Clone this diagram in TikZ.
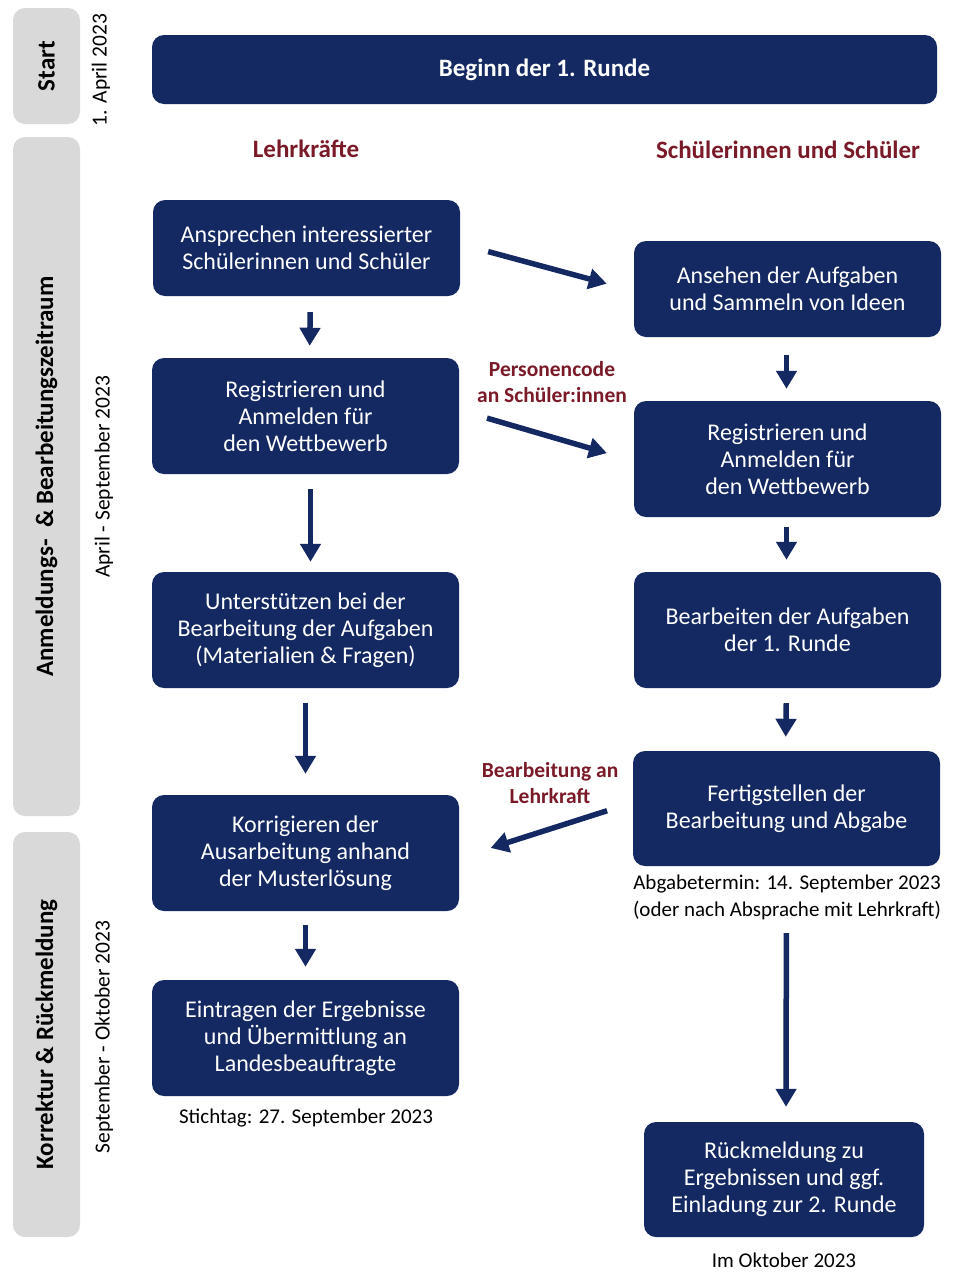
\documentclass[tikz,border=0pt]{standalone}
\usepackage{fontspec}
\setmainfont{Carlito}
\usetikzlibrary{arrows.meta}
\definecolor{navy}{HTML}{142862}
\definecolor{darkred}{HTML}{7A1A28}
\definecolor{sidegray}{HTML}{D9D9D9}
\begin{document}
\begin{tikzpicture}[x=1pt,y=-1pt,
  box/.style={fill=navy, rounded corners=12pt, text=white, align=center,
    font=\fontsize{24}{27}\selectfont, inner sep=0pt},
  side/.style={fill=sidegray, rounded corners=12pt, rotate=90, inner sep=0pt,
    font=\bfseries\fontsize{25}{28}\selectfont},
  datelab/.style={rotate=90, font=\fontsize{21.5}{24}\selectfont, inner sep=0pt},
  redlab/.style={text=darkred, align=center, font=\bfseries\fontsize{21.5}{26}\selectfont, inner sep=0pt},
  caplab/.style={align=center, font=\fontsize{21}{27}\selectfont, inner sep=0pt},
  arr/.style={draw=navy, line width=5.5pt, -{Triangle[length=18pt,width=20pt]}}]
\useasboundingbox (0,0) rectangle (954,1280);
% side bars
\node[side, minimum width=116pt, minimum height=67pt] (sStart) at (46.5,66) {Start};
\node[side, minimum width=679pt, minimum height=67pt] (sAnm) at (46.5,476.5) {Anmeldungs-\ \ \& Bearbeitungszeitraum};
\node[side, minimum width=405pt, minimum height=67pt] (sKor) at (46.5,1034.5) {Korrektur \& Rückmeldung};
\node[datelab] (d1) at (101,70) {1. April 2023};
\node[datelab] (d2) at (104,477) {April - September 2023};
\node[datelab] (d3) at (104,1037) {September - Oktober 2023};
% top box
\node[box, minimum width=785pt, minimum height=69pt, font=\bfseries\fontsize{25}{27}\selectfont] (beg) at (544.5,69.5) {Beginn der 1. Runde};
% column heads
\node[redlab, font=\bfseries\fontsize{25}{28}\selectfont] (hL) at (306,149) {Lehrkräfte};
\node[redlab, font=\bfseries\fontsize{25}{28}\selectfont] (hR) at (788,150) {Schülerinnen und Schüler};
% left column
\node[box, minimum width=307pt, minimum height=96pt] (L1) at (306.5,248) {Ansprechen interessierter\\Schülerinnen und Schüler};
\node[box, minimum width=307pt, minimum height=116pt] (L2) at (305.5,416) {Registrieren und\\Anmelden für\\den Wettbewerb};
\node[box, minimum width=307pt, minimum height=116pt] (L3) at (305.5,630) {Unterstützen bei der\\Bearbeitung der Aufgaben\\(Materialien \& Fragen)};
\node[box, minimum width=307pt, minimum height=116pt] (L4) at (305.5,853) {Korrigieren der\\Ausarbeitung anhand\\der Musterlösung};
\node[box, minimum width=307pt, minimum height=116pt] (L5) at (305.5,1038) {Eintragen der Ergebnisse\\und Übermittlung an\\Landesbeauftragte};
% right column
\node[box, minimum width=307pt, minimum height=96pt] (R1) at (787.5,289) {Ansehen der Aufgaben\\und Sammeln von Ideen};
\node[box, minimum width=307pt, minimum height=116pt] (R2) at (787.5,459) {Registrieren und\\Anmelden für\\den Wettbewerb};
\node[box, minimum width=307pt, minimum height=116pt] (R3) at (787.5,630) {Bearbeiten der Aufgaben\\der 1. Runde};
\node[box, minimum width=307pt, minimum height=115pt] (R4) at (786.5,808.5) {Fertigstellen der\\Bearbeitung und Abgabe};
\node[box, minimum width=280pt, minimum height=115pt] (R5) at (784,1179.5) {Rückmeldung zu\\Ergebnissen und ggf.\\Einladung zur 2. Runde};
% labels
\node[redlab] (lp) at (552,382) {Personencode\\an Schüler:innen};
\node[redlab] (lb) at (550,783) {Bearbeitung an\\Lehrkraft};
\node[caplab] (cA) at (787,897) {Abgabetermin: 14. September 2023\\(oder nach Absprache mit Lehrkraft)};
\node[caplab] (cS) at (306,1118) {Stichtag: 27. September 2023};
\node[caplab] (cO) at (784,1260) {Im Oktober 2023};
% arrows
\draw[arr, shorten <=16pt, shorten >=12pt] ([xshift=4pt]L1.south) -- ([xshift=4pt]L2.north);
\draw[arr, shorten <=15pt, shorten >=10pt] ([xshift=5pt]L2.south) -- ([xshift=5pt]L3.north);
\draw[arr, shorten <=15pt, shorten >=21pt] (L3.south) -- (L4.north);
\draw[arr, shorten <=14pt, shorten >=13pt] (L4.south) -- (L5.north);
\draw[arr, shorten <=18pt, shorten >=12pt] ([xshift=-1pt]R1.south) -- ([xshift=-1pt]R2.north);
\draw[arr, shorten <=10pt, shorten >=12pt] ([xshift=-1pt]R2.south) -- ([xshift=-1pt]R3.north);
\draw[arr, shorten <=15pt, shorten >=14pt] ([xshift=-1pt]R3.south) -- ([xshift=-1pt]R4.north);
\draw[arr, shorten <=67pt, shorten >=15pt] (R4.south) -- ([xshift=2pt]R5.north);
\draw[arr, shorten <=29pt, shorten >=28pt] ([yshift=4pt]L1.east) -- ([yshift=-2pt]R1.west);
\draw[arr, shorten <=29pt, shorten >=28pt] ([yshift=6pt]L2.east) -- ([yshift=-2pt]R2.west);
\draw[arr, shorten <=27pt, shorten >=33pt] ([yshift=6pt]R4.west) -- ([yshift=-5pt]L4.east);
\end{tikzpicture}
\end{document}
